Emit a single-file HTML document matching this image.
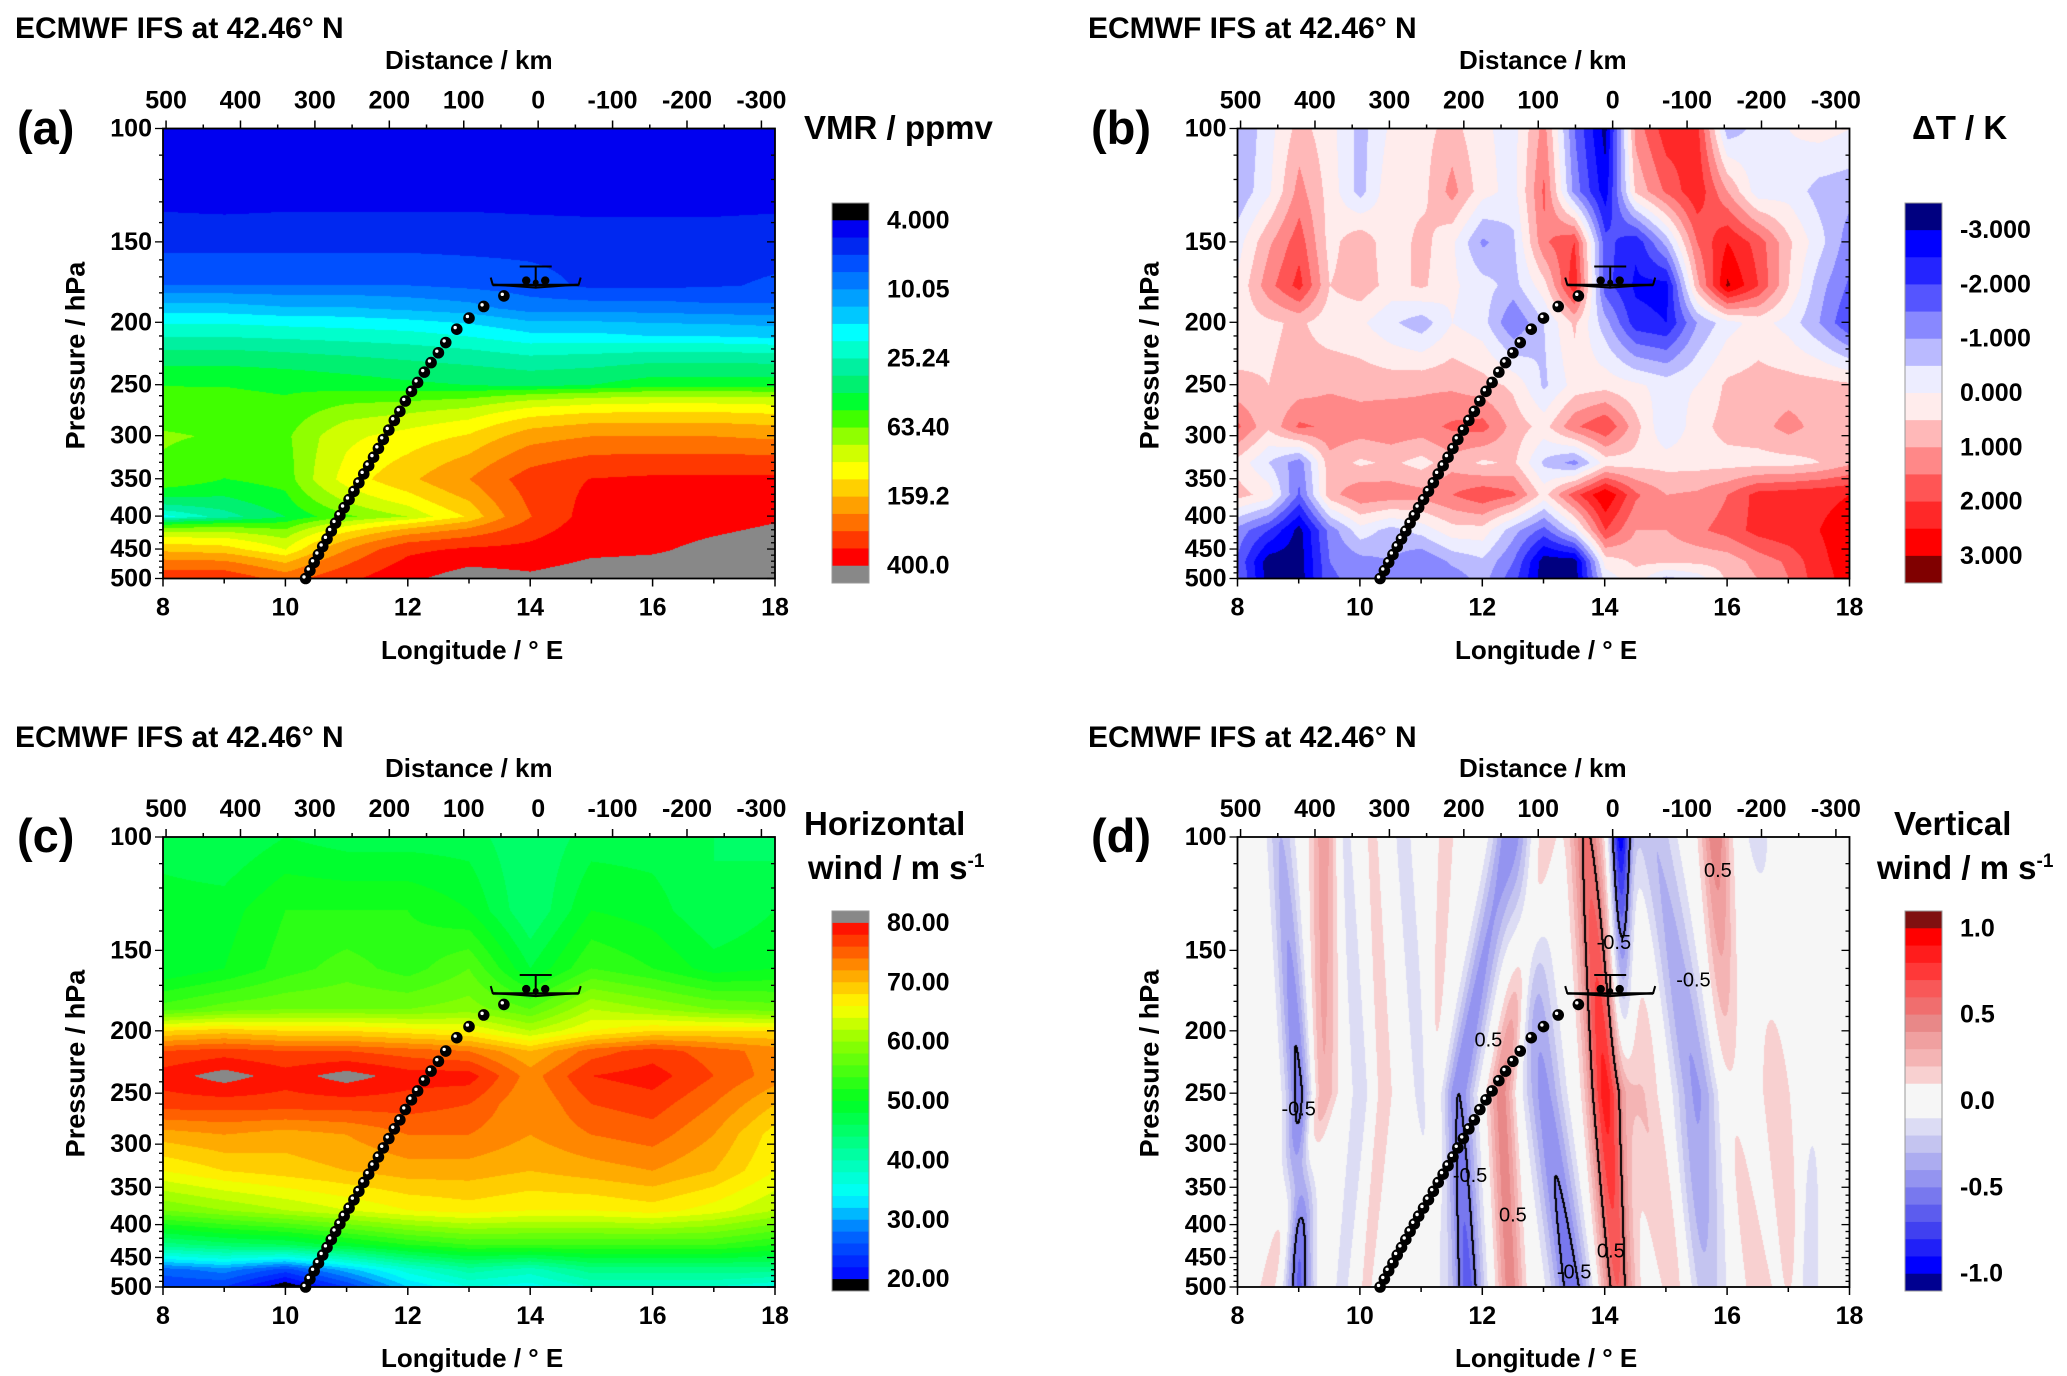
<!DOCTYPE html>
<html><head><meta charset="utf-8">
<style>
body{margin:0;background:#fff;}
#root{position:relative;width:2067px;height:1376px;overflow:hidden;background:#fff;font-family:"Liberation Sans",sans-serif;color:#000;}
.t{position:absolute;font-weight:bold;white-space:nowrap;line-height:1;}
canvas{position:absolute;}
svg{position:absolute;left:0;top:0;}
</style></head>
<body>
<div id="root">
<canvas id="cv-a"></canvas>
<canvas id="cv-b"></canvas>
<canvas id="cv-c"></canvas>
<canvas id="cv-d"></canvas>
<svg id="ov" width="2067" height="1376"></svg>

<div class="t" style="left:15px;top:14px;font-size:30px;">ECMWF IFS at 42.46° N</div>
<div class="t" style="left:1088px;top:14px;font-size:30px;">ECMWF IFS at 42.46° N</div>
<div class="t" style="left:15px;top:723px;font-size:30px;">ECMWF IFS at 42.46° N</div>
<div class="t" style="left:1088px;top:723px;font-size:30px;">ECMWF IFS at 42.46° N</div>

<div class="t" style="left:385px;top:47px;font-size:26px;">Distance / km</div>
<div class="t" style="left:1459px;top:47px;font-size:26px;">Distance / km</div>
<div class="t" style="left:385px;top:755px;font-size:26px;">Distance / km</div>
<div class="t" style="left:1459px;top:755px;font-size:26px;">Distance / km</div>

<div class="t" style="left:17px;top:104px;font-size:47px;">(a)</div>
<div class="t" style="left:1091px;top:104px;font-size:47px;">(b)</div>
<div class="t" style="left:17px;top:812px;font-size:47px;">(c)</div>
<div class="t" style="left:1091px;top:812px;font-size:47px;">(d)</div>

<div class="t" style="left:381px;top:637px;font-size:26px;">Longitude / ° E</div>
<div class="t" style="left:1455px;top:637px;font-size:26px;">Longitude / ° E</div>
<div class="t" style="left:381px;top:1345px;font-size:26px;">Longitude / ° E</div>
<div class="t" style="left:1455px;top:1345px;font-size:26px;">Longitude / ° E</div>

<div class="t" style="left:-34px;top:342px;font-size:27px;width:220px;text-align:center;transform:rotate(-90deg);">Pressure / hPa</div>
<div class="t" style="left:1040px;top:342px;font-size:27px;width:220px;text-align:center;transform:rotate(-90deg);">Pressure / hPa</div>
<div class="t" style="left:-34px;top:1050px;font-size:27px;width:220px;text-align:center;transform:rotate(-90deg);">Pressure / hPa</div>
<div class="t" style="left:1040px;top:1050px;font-size:27px;width:220px;text-align:center;transform:rotate(-90deg);">Pressure / hPa</div>

<div class="t" style="left:804px;top:111px;font-size:33px;">VMR / ppmv</div>
<div class="t" style="left:1912px;top:111px;font-size:33px;">ΔT / K</div>
<div class="t" style="left:804px;top:807px;font-size:33px;">Horizontal</div>
<div class="t" style="left:808px;top:851px;font-size:33px;">wind / m s<sup style="font-size:19px;">-1</sup></div>
<div class="t" style="left:1894px;top:807px;font-size:33px;">Vertical</div>
<div class="t" style="left:1877px;top:851px;font-size:33px;">wind / m s<sup style="font-size:19px;">-1</sup></div>
</div>

<script>
// ---------- shared axis data ----------
const lonTicks = [8, 10, 12, 14, 16, 18];
const lonMinor = [9, 11, 13, 15, 17];
const distTicks = [500, 400, 300, 200, 100, 0, -100, -200, -300];
const presTicks = [100, 150, 200, 250, 300, 350, 400, 450, 500];
const distZeroLon = 14.13;
const degPerKm = 0.01216;

// ---------- flight track ----------
const trackLon = [10.33,10.40,10.47,10.54,10.61,10.68,10.75,10.82,10.89,10.96,11.04,11.12,11.20,11.28,11.36,11.44,11.52,11.60,11.69,11.78,11.87,11.96,12.06,12.16,12.27,12.38,12.50,12.62,12.80,13.00,13.24,13.57];
const trackP = [500,486,472,459,446,434,422,410,399,388,377,366,355,344,334,324,314,304,294,284,275,265,256,248,239,231,223,215,205,197,189,182];
const aircraftLon = 14.09;
const aircraftP = 176;

// ---------- panel (a) VMR ----------
const vmrLon = [8,9,10,11,12,13,14,15,16,17,18];
const vmrP = [100,130,150,175,190,210,250,300,350,400,450,500];
const vmrRows = [
 [4.4,4.4,4.4,4.4,4.4,4.4,4.4,4.4,4.4,4.4,4.4],
 [4.8,4.7,4.8,4.8,4.8,4.8,4.7,4.6,4.6,4.6,4.7],
 [5.8,5.8,5.8,5.8,5.8,5.8,5.8,5.8,5.8,5.8,5.9],
 [8,8,8,8,8,7.5,7,6,6,6.2,6.5],
 [14,14,13,13,12,11,9,9,9,8.5,8.5],
 [25,25,24,23,22,20,17,17,16,16,15],
 [50,50,48,45,42,40,38,40,45,45,45],
 [65,62,60,95,110,130,180,200,200,200,190],
 [60,50,55,110,150,200,280,320,330,330,330],
 [18,28,40,60,80,130,250,350,360,370,390],
 [150,140,100,200,300,330,340,380,390,420,440],
 [300,300,230,300,380,450,420,450,450,450,470]
];
const vmrLabels = ["4.000","10.05","25.24","63.40","159.2","400.0"];

// ---------- panel (b) Delta T ----------
const dtLon = [8,8.5,9,9.5,10,10.5,11,11.5,12,12.5,13,13.5,14,14.5,15,15.5,16,16.5,17,17.5,18];
const dtP = [100,125,150,175,200,250,290,330,370,420,470,500];
const dtRows = [
 [-1.0,-0.2,0.7,0.2,-0.7,0.1,0.3,0.7,0.1,-0.2,1.2,-1.5,-3.2,1.2,2.3,2.2,-0.8,-0.3,0.0,0.2,0.0],
 [-0.9,-0.1,1.2,0.3,-0.7,0.4,0.3,1.2,0.2,-0.2,1.6,-1.2,-2.8,0.6,1.6,2.4,1.0,-0.3,-0.2,-0.7,-0.8],
 [-0.2,0.9,1.8,0.3,0.9,0.1,0.7,0.1,-1.1,-0.6,1.4,2.0,-1.8,-2.4,-0.8,1.5,2.5,1.8,0.6,-0.3,-1.3],
 [0.1,1.3,2.2,0.5,0.8,0.3,0.6,0.1,-0.3,-0.7,0.3,2.4,-1.8,-2.6,-2.7,0.8,3.1,2.0,0.5,-0.8,-1.6],
 [0.2,0.4,0.6,0.2,0.1,-0.4,-0.8,0.0,-0.3,-1.5,-0.5,0.6,-0.8,-2.3,-2.5,-1.0,-0.2,0.2,-0.2,-1.0,-2.0],
 [0.6,0.5,0.7,0.9,0.8,0.8,0.9,0.9,0.7,0.4,-0.6,0.2,0.3,0.1,-0.2,0.0,0.6,0.7,0.7,0.7,0.6],
 [1.6,0.6,1.6,1.4,1.3,1.4,1.3,1.6,1.7,0.8,0.3,1.4,2.0,0.7,-0.5,0.3,0.7,0.8,1.2,0.8,0.7],
 [0.3,-0.5,-1.3,0.8,0.4,0.6,0.3,0.8,0.4,0.6,-0.6,-1.2,0.2,0.3,0.3,0.3,0.3,0.3,0.3,0.5,0.9],
 [0.7,0.3,-1.6,0.8,1.4,1.3,1.2,1.5,1.9,1.6,0.3,1.8,3.0,1.6,1.0,1.1,1.5,2.2,2.3,2.4,2.5],
 [-1.2,-2.0,-3.2,-1.3,-0.2,-0.7,-0.3,0.3,0.3,-0.8,-1.7,-0.3,2.0,1.0,1.0,1.4,1.7,2.2,2.4,2.5,2.7],
 [-1.6,-3.3,-3.3,-1.5,-1.2,-1.0,-1.5,-0.9,-0.6,-1.5,-3.3,-3.3,0.2,0.6,0.6,0.6,0.7,1.2,1.6,2.4,2.7],
 [-1.4,-3.3,-3.3,-1.6,-1.3,-1.0,-1.2,-1.3,-0.8,-1.8,-3.3,-3.3,-0.3,0.3,-0.7,-0.3,0.6,1.0,1.5,2.3,2.7]
];
const dtLabels = ["-3.000","-2.000","-1.000","0.000","1.000","2.000","3.000"];

// ---------- panel (c) horizontal wind ----------
const uLon = [8,9,10,11,12,13,14,15,16,17,18];
const uP = [100,130,160,185,200,215,235,260,290,330,380,430,470,500];
const uRows = [
 [47,46,48,47,47,47,44,47,47,46,45],
 [49,49,52,52,52,50,44,50,49,46,48],
 [48,50,53,55,53,56,48,54,52,49,50],
 [55,57,58,58,58,59,56,62,60,58,57],
 [68,69,68,68,67,66,62,66,68,68,68],
 [76,77,76,76,75,74,70,75,77,75,73],
 [79,81,79,81,79,79,73,78,79,76,73],
 [77,77,77,77,77,76,72,76,77,74,70],
 [71,72,71,72,74,74,72,74,75,72,67],
 [66,68,69,70,71,71,70,71,72,70,66],
 [58,60,62,64,66,67,66,66,67,65,62],
 [43,45,46,49,52,54,54,54,54,54,52],
 [27,29,25,31,37,41,39,43,43,43,43],
 [24,24,18,24,32,36,35,38,38,38,36]
];
const uLabels = ["80.00","70.00","60.00","50.00","40.00","30.00","20.00"];

// ---------- panel (d) vertical wind: tilted stripes ----------
const wLon100 = [8.7, 9.4, 9.75,10.2,10.7,11.4,12.4,13.0,12.6,13.7,14.25,14.8,14.6,15.8,16.5,16.9];
const wLon250 = [9.0, 9.4, 10.0,10.4,11.0,11.2,11.6,12.3,13.0,14.0,14.3, 15.5,14.6,16.0,16.8,17.4];
const wLon500 = [9.0, 8.5, 9.7, 10.1,11.3,11.2,11.75,12.45,13.45,14.2,14.3,15.6,15.2,16.5,17.1,17.3];
const wAmp100 = [-0.30,0.35,-0.15,0.12,-0.15,0.15,-0.35,0.20,-0.20,0.52,-0.95,-0.30,0.00,0.48,-0.15,0.05];
const wAmp250 = [-0.55,0.30,-0.20,0.15,-0.15,0.10,-0.50,0.45,-0.44,0.85,0.00,-0.42,0.20,0.10,0.20,-0.05];
const wAmp500 = [-0.62,0.15,-0.15,0.12,-0.10,0.05,-0.65,0.45,-0.58,0.60,0.00,-0.30,0.20,0.20,0.15,-0.25];
const wWidth = [0.22,0.22,0.15,0.18,0.18,0.18,0.26,0.22,0.32,0.28,0.17,0.36,0.34,0.24,0.26,0.2];
const wLabels = ["1.0","0.5","0.0","-0.5","-1.0"];
const contourLabelText = ["-0.5","0.5","-0.5","-0.5","0.5","-0.5","0.5","0.5","-0.5"];
const contourLabelLon = [9.0,15.85,14.15,15.45,12.1,11.8,12.5,14.1,13.5];
const contourLabelP = [265,113,146,167,207,336,387,440,475];

// ---------- layout ----------
const PW = 612, PH = 450;
const panels = {
  a:{x:163,y:128.5}, b:{x:1237.5,y:128.5}, c:{x:163,y:837}, d:{x:1237.5,y:837}
};
function xOf(pn, lon){ return pn.x + (lon-8)/10*PW; }
function yOf(pn, p){ return pn.y + Math.log(p/100)/Math.log(5)*PH; }

// ---------- colour maps ----------
const cmapA = ["#000000","#0000f0","#0028f0","#0050ff","#0078ff","#00a0ff","#00c8ff","#00ffff","#00ffcc","#00f0a0","#00f070","#00ff30","#40ff00","#90ff00","#d0ff00","#ffff00","#ffd000","#ffa000","#ff7000","#ff3800","#ff0000","#888888"];
const cmapB = ["#000080","#0000ff","#2424ff","#5555ff","#8888ff","#babaff","#ededff","#ffecec","#ffb8b8","#ff8888","#ff5555","#ff2828","#ff0000","#800000"];
function lerpHex(a,b,t){
  const pa=[1,3,5].map(i=>parseInt(a.substr(i,2),16)), pb=[1,3,5].map(i=>parseInt(b.substr(i,2),16));
  return "#"+pa.map((v,i)=>Math.round(v+(pb[i]-v)*t).toString(16).padStart(2,"0")).join("");
}
const cAnch = [[20,"#0000ff"],[28,"#0070ff"],[34,"#00ffff"],[40,"#00ffb0"],[50,"#00ff20"],[60,"#90ff00"],[66,"#ffff00"],[72,"#ff9a00"],[80,"#ff0000"]];
const cmapC = ["#000000"];
for(let k=0;k<30;k++){
  const v=21+2*k; let i=0; while(i<cAnch.length-2 && v>cAnch[i+1][0]) i++;
  const t=(v-cAnch[i][0])/(cAnch[i+1][0]-cAnch[i][0]);
  cmapC.push(lerpHex(cAnch[i][1],cAnch[i+1][1],Math.max(0,Math.min(1,t))));
}
cmapC.push("#888888");
const cmapD = ["#000090","#0000ff","#2020f8","#4040f0","#5c5cee","#7878ee","#9494f0","#acacf0","#c4c4f0","#dcdcf4","#f6f6f6","#f6f6f6","#f8d0d0","#f4b4b4","#f0a0a0","#e88888","#f06e6e","#f85858","#ff3838","#ff1c1c","#ff0000","#801010"];

function idxA(v){ if(v<4) return 0; if(v>=400) return 21; return Math.min(20,Math.floor(10*Math.log10(v/4))+1); }
function idxB(v){ if(v<-3) return 0; if(v>=3) return 13; return Math.floor((v+3)/0.5)+1; }
function idxC(v){ if(v<20) return 0; if(v>=80) return 31; return Math.floor((v-20)/2)+1; }
function idxD(v){ if(v<-1) return 0; if(v>=1) return 21; return Math.min(20,Math.floor((v+1)/0.1+1e-9)+1); }

function findSeg(arr, v){ let i=0; while(i<arr.length-2 && v>arr[i+1]) i++; return i; }
function gridVal(lons, ps, rows, lon, p){
  const i=findSeg(lons,lon), j=findSeg(ps,p);
  let tx=(lon-lons[i])/(lons[i+1]-lons[i]); tx=Math.max(0,Math.min(1,tx));
  let ty=(Math.log(p)-Math.log(ps[j]))/(Math.log(ps[j+1])-Math.log(ps[j])); ty=Math.max(0,Math.min(1,ty));
  const a=rows[j][i], b=rows[j][i+1], c=rows[j+1][i], d=rows[j+1][i+1];
  return (a*(1-tx)+b*tx)*(1-ty)+(c*(1-tx)+d*tx)*ty;
}
function stripeVal(lon,p){
  const lp=Math.log(p);
  let s=0;
  for(let k=0;k<wLon100.length;k++){
    let L,A;
    if(p<=250){ const t=(lp-Math.log(100))/(Math.log(250)-Math.log(100)); L=wLon100[k]+(wLon250[k]-wLon100[k])*t; A=wAmp100[k]+(wAmp250[k]-wAmp100[k])*t; }
    else { const t=(lp-Math.log(250))/(Math.log(500)-Math.log(250)); L=wLon250[k]+(wLon500[k]-wLon250[k])*t; A=wAmp250[k]+(wAmp500[k]-wAmp250[k])*t; }
    const dx=(lon-L)/wWidth[k];
    s+=A*Math.exp(-dx*dx);
  }
  return s;
}
function hexRgb(h){ return [1,3,5].map(i=>parseInt(h.substr(i,2),16)); }

function renderField(id, pn, fn, idx, cmap, contours){
  const cv=document.getElementById(id);
  cv.width=PW; cv.height=PH;
  cv.style.left=pn.x+"px"; cv.style.top=pn.y+"px";
  const ctx=cv.getContext("2d");
  const img=ctx.createImageData(PW,PH);
  const rgb=cmap.map(hexRgb);
  const vals=new Float32Array(PW*PH);
  for(let j=0;j<PH;j++){
    const p=100*Math.pow(5,(j+0.5)/PH);
    for(let i=0;i<PW;i++){
      const lon=8+(i+0.5)/PW*10;
      const v=fn(lon,p); vals[j*PW+i]=v;
      const c=rgb[idx(v)]; const o=(j*PW+i)*4;
      img.data[o]=c[0]; img.data[o+1]=c[1]; img.data[o+2]=c[2]; img.data[o+3]=255;
    }
  }
  if(contours){
    for(let j=0;j<PH-1;j++) for(let i=0;i<PW-1;i++){
      const v=vals[j*PW+i], r=vals[j*PW+i+1], b=vals[(j+1)*PW+i];
      let hit=false;
      for(const lv of [0.5,-0.5]){
        const s=lv>0?(x=>x>=lv):(x=>x<=lv);
        if(s(v)!==s(r)||s(v)!==s(b)) hit=true;
      }
      if(hit){ for(const q of [j*PW+i, j*PW+i+1]){ const o=q*4; img.data[o]=0; img.data[o+1]=0; img.data[o+2]=0; } }
    }
  }
  ctx.putImageData(img,0,0);
}

renderField("cv-a", panels.a, (lon,p)=>gridVal(vmrLon,vmrP,vmrRows,lon,p), idxA, cmapA, false);
renderField("cv-b", panels.b, (lon,p)=>gridVal(dtLon,dtP,dtRows,lon,p), idxB, cmapB, false);
renderField("cv-c", panels.c, (lon,p)=>gridVal(uLon,uP,uRows,lon,p), idxC, cmapC, false);
renderField("cv-d", panels.d, stripeVal, idxD, cmapD, true);

// ---------- overlay ----------
const NS="http://www.w3.org/2000/svg";
const ov=document.getElementById("ov");
function mk(tag, attrs, parent){
  const e=document.createElementNS(NS,tag);
  for(const k in attrs) e.setAttribute(k,attrs[k]);
  (parent||ov).appendChild(e); return e;
}
function line(x1,y1,x2,y2,w){ return mk("line",{x1:x1,y1:y1,x2:x2,y2:y2,stroke:"#000","stroke-width":w||1.5}); }
function txt(x,y,s,size,anchor,weight){
  const e=mk("text",{x:x,y:y,"font-size":size,"text-anchor":anchor||"middle","dominant-baseline":"central","font-family":"Liberation Sans, sans-serif","font-weight":weight||"bold"});
  e.textContent=s; return e;
}

for(const key of ["a","b","c","d"]){
  const pn=panels[key];
  const fr=mk("rect",{x:pn.x,y:pn.y,width:PW,height:PH,fill:"none",stroke:"#000","stroke-width":1.8});
  
  
  for(const l of lonTicks){
    const x=xOf(pn,l);
    const tk=line(x,pn.y+PH,x,pn.y+PH+8);
    
    
    const lb=txt(x,pn.y+PH+29,String(l),25);
    
    
  }
  for(const l of lonMinor){ const x=xOf(pn,l); line(x,pn.y+PH,x,pn.y+PH+5); }
  for(const d of distTicks){
    const x=xOf(pn,distZeroLon-d*degPerKm);
    const tk=line(x,pn.y,x,pn.y-8);
    
    
    const lb=txt(x,pn.y-28,String(d),25);
    
    
    const xm=xOf(pn,distZeroLon-(d-50)*degPerKm);
    if(xm<pn.x+PW) line(xm,pn.y,xm,pn.y-4);
  }
  for(let p=100;p<=500;p+=10){
    const y=yOf(pn,p), major=presTicks.indexOf(p)>=0;
    line(pn.x,y,pn.x-(major?8:4),y,1.3);
    line(pn.x+PW,y,pn.x+PW-(major?8:4),y,1.3);
  }
  for(const p of presTicks){
    const lb=txt(pn.x-11,yOf(pn,p),String(p),25,"end");
    
    
  }
  const g=mk("g",{});
  
  
  for(let i=0;i<trackLon.length;i++){
    const cx=xOf(pn,trackLon[i]), cy=yOf(pn,trackP[i]);
    const c=mk("circle",{cx:cx,cy:cy,r:5.8,fill:"#000"},g);
    
    
    mk("circle",{cx:cx-1.6,cy:cy-1.6,r:1.7,fill:"#fff"},g);
  }
  const ax=xOf(pn,aircraftLon), ay=yOf(pn,aircraftP);
  const ac=mk("g",{fill:"#000",stroke:"#000"});
  
  
  mk("path",{d:`M${ax-45} ${ay-9} L${ax-43} ${ay-2} L${ax} ${ay+1} L${ax+43} ${ay-2} L${ax+45} ${ay-9}`,fill:"none","stroke-width":2},ac);
  mk("path",{d:`M${ax-43} ${ay-1.5} L${ax+43} ${ay-1.5}`,"stroke-width":2.5},ac);
  mk("line",{x1:ax,y1:ay+2,x2:ax,y2:ay-20,"stroke-width":2},ac);
  mk("line",{x1:ax-16,y1:ay-20,x2:ax+16,y2:ay-20,"stroke-width":2},ac);
  mk("circle",{cx:ax-9.5,cy:ay-6,r:4.2,stroke:"none"},ac);
  mk("circle",{cx:ax+9.5,cy:ay-6,r:4.2,stroke:"none"},ac);
  mk("circle",{cx:ax,cy:ay-4,r:3,stroke:"none"},ac);
}

for(let i=0;i<contourLabelText.length;i++){
  const t=txt(xOf(panels.d,contourLabelLon[i]),yOf(panels.d,contourLabelP[i]),contourLabelText[i],20,"middle","normal");
  
  
}

function colorbar(key, x, y0, h, cmap, reverse, labels, bounds, lx){
  const n=cmap.length, sh=h/n;
  const g=mk("g",{});
  
  
  for(let k=0;k<n;k++){
    const ci=reverse?n-1-k:k;
    const r=mk("rect",{x:x,y:y0+k*sh,width:37,height:sh+0.5,fill:cmap[ci]},g);
    
    
  }
  mk("rect",{x:x,y:y0,width:37,height:h,fill:"none",stroke:"#999","stroke-width":1},g);
  for(let i=0;i<labels.length;i++){
    const t=txt(lx,y0+bounds[i]*sh,labels[i],25,"start");
    
    
  }
}
colorbar("a",832,203,380,cmapA,false,vmrLabels,[1,5,9,13,17,21],887);
colorbar("b",1905,203,380,cmapB,false,dtLabels,[1,3,5,7,9,11,13],1960);
colorbar("c",832,911,380,cmapC,true,uLabels,[1,6,11,16,21,26,31],887);
colorbar("d",1905,911,380,cmapD,true,wLabels,[1,6,11,16,21],1960);
</script>
</body></html>
